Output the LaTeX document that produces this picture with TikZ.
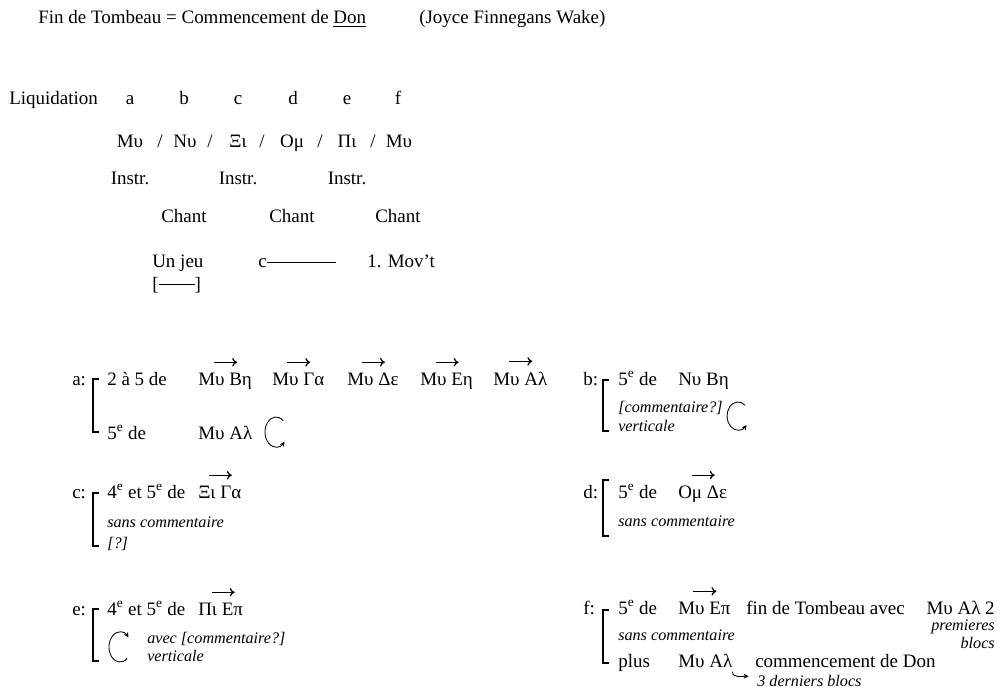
\documentclass[tikz,border=0pt]{standalone}
\usepackage{fontspec}
\setmainfont{Liberation Serif}
\usetikzlibrary{arrows.meta}

\begin{document}
\begin{tikzpicture}[x=0.025cm, y=0.025cm,
  txt/.style={anchor=base west, inner sep=0pt, font=\fontsize{13.5}{16}\selectfont},
  ctr/.style={anchor=base, inner sep=0pt, font=\fontsize{13.5}{16}\selectfont},
  com/.style={anchor=base west, inner sep=0pt, font=\fontsize{11.5}{13}\selectfont\itshape},
  brk/.style={line width=1pt},
  vec/.style={-{To[length=3.5pt,width=6pt]}, line width=0.9pt},
  loop/.style={-{Stealth[length=3.5pt,width=3.5pt]}, line width=0.6pt}]
\useasboundingbox (0,0) rectangle (1001,-690);

% Title
\node[txt] (titre) at (38,-24) {Fin de Tombeau = Commencement de \underline{Don}};
\node[txt] (joyce) at (419,-24) {(Joyce Finnegans Wake)};

% Liquidation
\node[txt] (liq) at (9,-105) {Liquidation};
\foreach \l/\x in {a/130, b/184, c/238, d/293, e/347, f/398}
    \node[ctr] (l\l) at (\x,-105) {\l};

\foreach \n/\t/\x in {1/Μυ/130, 2/Νυ/185, 3/Ξι/238, 4/Ομ/292, 5/Πι/347, 6/Μυ/399}
    \node[ctr] (g\n) at (\x,-148) {\t};
\foreach \n/\x in {1/160, 2/210, 3/262, 4/320, 5/373}
    \node[ctr] (s\n) at (\x,-148) {/};

\foreach \n/\x in {1/130, 2/238, 3/347}
    \node[ctr] (instr\n) at (\x,-185) {Instr.};
\foreach \n/\x in {1/184, 2/292, 3/398}
    \node[ctr] (chant\n) at (\x,-222) {Chant};

\node[txt] (jeu) at (152,-267) {Un jeu};
\node[txt] (jc) at (258,-267) {c};
\coordinate (jcend) at (336,-263);
\draw[line width=0.8pt] (jc.east) -- (jc.east -| jcend);
\node[txt] (mov) at (367,-267) {1. Mov’t};
\node[txt] (jeub) at (152,-290) {[\rule[0.28em]{1.9em}{0.5pt}]};

% a
\node[txt] (la) at (72,-385) {a:};
\draw[brk] (99,-379) -- (93,-379) -- (93,-432) -- (99,-432);
\node[txt] (a1) at (107,-385) {2 à 5 de};
\foreach \n/\t/\x in {1/Μυ Βη/198, 2/Μυ Γα/272, 3/Μυ Δε/347, 4/Μυ Εη/420, 5/Μυ Αλ/493} {
    \node[txt] (am\n) at (\x,-385) {\t};
    \draw[vec] ([shift={(-11,10)}]am\n.north) -- ([shift={(12,10)}]am\n.north);
}
\node[txt] (a2) at (107,-439) {5\textsuperscript{e} de};
\node[txt] (am6) at (198,-439) {Μυ Αλ};
\coordinate (aloop) at (276,-432);
\draw[loop] (aloop) ++(50:11 and 15) arc[start angle=50, end angle=320, x radius=11, y radius=15];

% b
\node[txt] (lb) at (583,-385) {b:};
\draw[brk] (609,-380) -- (603,-380) -- (603,-431) -- (609,-431);
\node[txt] (b1) at (618,-385) {5\textsuperscript{e} de};
\node[txt] (bm) at (678,-385) {Νυ Βη};
\node[com] (b2) at (618,-412) {[commentaire?]};
\node[com] (b3) at (618,-431) {verticale};
\coordinate (bloop) at (738,-416);
\draw[loop] (bloop) ++(50:11 and 14) arc[start angle=50, end angle=320, x radius=11, y radius=14];

% c
\node[txt] (lc) at (72,-498) {c:};
\draw[brk] (99,-493) -- (93,-493) -- (93,-546) -- (99,-546);
\node[txt] (c1) at (107,-498) {4\textsuperscript{e} et 5\textsuperscript{e} de};
\node[txt] (cm) at (198,-498) {Ξι Γα};
\draw[vec] ([shift={(-11,10)}]cm.north) -- ([shift={(12,10)}]cm.north);
\node[com] (c2) at (107,-527) {sans commentaire};
\node[com] (c3) at (107,-548) {[?]};

% d
\node[txt] (ld) at (583,-498) {d:};
\draw[brk] (609,-480) -- (603,-480) -- (603,-536) -- (609,-536);
\node[txt] (d1) at (618,-498) {5\textsuperscript{e} de};
\node[txt] (dm) at (678,-498) {Ομ Δε};
\draw[vec] ([shift={(-11,10)}]dm.north) -- ([shift={(12,10)}]dm.north);
\node[com] (d2) at (618,-526) {sans commentaire};

% e
\node[txt] (le) at (72,-615) {e:};
\draw[brk] (99,-609) -- (93,-609) -- (93,-661) -- (99,-661);
\node[txt] (e1) at (107,-615) {4\textsuperscript{e} et 5\textsuperscript{e} de};
\node[txt] (em) at (198,-615) {Πι Επ};
\draw[vec] ([shift={(-9,10)}]em.north) -- ([shift={(14,10)}]em.north);
\coordinate (eloop) at (120,-647);
\draw[loop] (eloop) ++(310:11 and 15) arc[start angle=310, end angle=40, x radius=11, y radius=15];
\node[com] (e2) at (147,-643) {avec [commentaire?]};
\node[com] (e3) at (147,-661) {verticale};

% f
\node[txt] (lf) at (583,-614) {f:};
\draw[brk] (609,-610) -- (603,-610) -- (603,-663) -- (609,-663);
\node[txt] (f1) at (618,-614) {5\textsuperscript{e} de};
\node[txt] (fm) at (678,-614) {Μυ Επ};
\draw[vec] ([shift={(-11,10)}]fm.north) -- ([shift={(12,10)}]fm.north);
\node[txt] (ftomb) at (746,-614) {fin de Tombeau avec};
\node[txt, anchor=base east] (fal) at (995,-614) {Μυ Αλ 2};
\node[com, anchor=base east] (fprem) at (995,-630) {premieres};
\node[com, anchor=base east] (fblocs) at (995,-648) {blocs};
\node[com] (f2) at (618,-640) {sans commentaire};
\node[txt] (f3) at (618,-667) {plus};
\node[txt] (fma) at (678,-667) {Μυ Αλ};
\node[txt] (fdon) at (755,-667) {commencement de Don};
\node[com] (fder) at (757,-686) {3 derniers blocs};
\draw[loop] ([xshift=0pt,yshift=-3pt]fma.south east) to[out=-95, in=180] ([xshift=-6pt,yshift=3pt]fder.west);
\end{tikzpicture}
\end{document}
